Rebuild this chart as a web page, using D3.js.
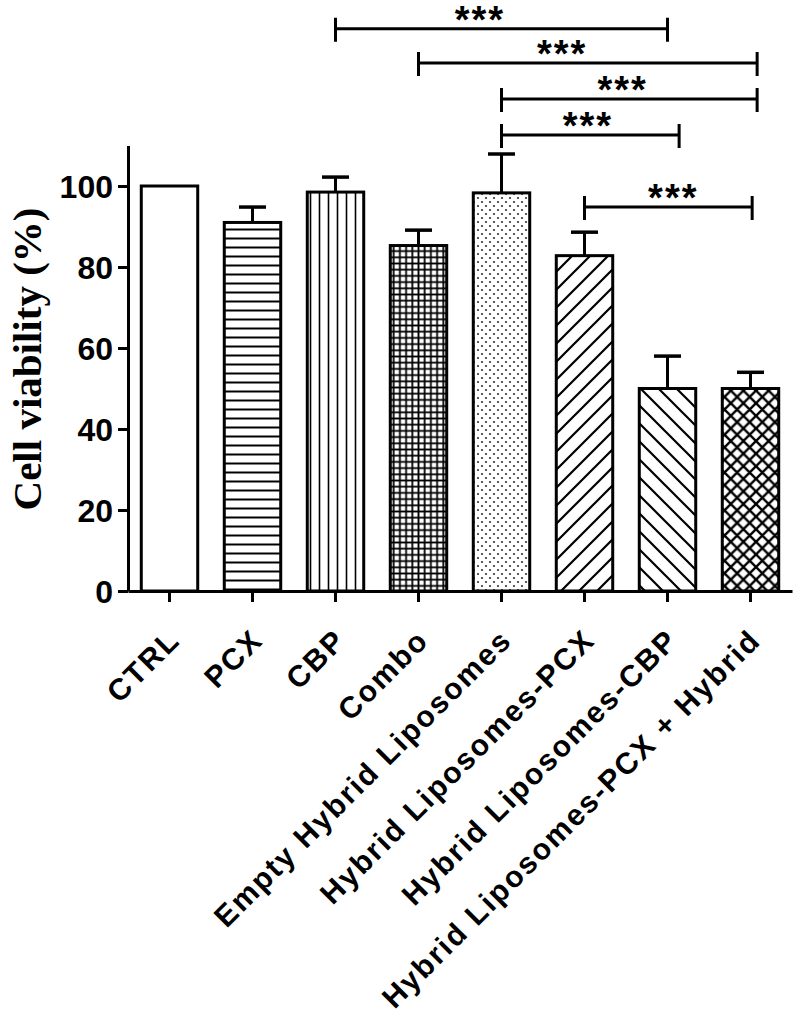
<!DOCTYPE html>
<html>
<head>
<meta charset="utf-8">
<script src="https://cdn.jsdelivr.net/npm/d3@7"></script>
<style>
  html, body { margin: 0; padding: 0; background: #fff; }
  svg { display: block; }
</style>
</head>
<body>
<svg id="chart" width="800" height="1021"></svg>
<script>
// ---------- data ----------
const categories = ["CTRL", "PCX", "CBP", "Combo", "Empty Hybrid Liposomes",
  "Hybrid Liposomes-PCX", "Hybrid Liposomes-CBP", "Hybrid Liposomes-PCX + Hybrid"];
const means = [100, 91, 98.5, 85.3, 98.3, 82.8, 50, 50];
const errors = [0, 3.8, 3.7, 3.8, 9.6, 5.8, 8, 4];
const yTicks = [0, 20, 40, 60, 80, 100];
const yTitle = "Cell viability (%)";
// significance comparisons (category positions, bracket height in % units)
const sigFrom = [2, 3, 4, 4, 5];
const sigTo = [6, 7.08, 7.08, 6.14, 7.02];
const sigLevel = [138.8, 130.4, 121.5, 112.6, 94.8];
const sigStarPos = [3.74, 4.73, 5.46, 5.04, 6.07];
const sigLabel = ["***", "***", "***", "***", "***"];

// ---------- layout ----------
const svg = d3.select("#chart");
const x0 = 128, x1 = 792, yBase = 591, yTop = 145.5;
const x = d3.scaleBand().domain(categories).range([x0, x1]).paddingInner(0.32).paddingOuter(0.16);
const y = d3.scaleLinear().domain([0, 110]).range([yBase, yTop]);
const step = x.step();
const catX = p => x(categories[0]) + x.bandwidth() / 2 + p * step;

// ---------- patterns ----------
const defs = svg.append("defs");
function pat(id, w, h) {
  return defs.append("pattern").attr("id", id).attr("patternUnits", "userSpaceOnUse")
    .attr("width", w).attr("height", h);
}
let p;
p = pat("hlines", 10, 9);
p.append("line").attr("x1", 0).attr("x2", 10).attr("y1", 4.5).attr("y2", 4.5).attr("stroke", "#000").attr("stroke-width", 2);
p = pat("vlines", 9, 10);
p.append("line").attr("y1", 0).attr("y2", 10).attr("x1", 4.5).attr("x2", 4.5).attr("stroke", "#000").attr("stroke-width", 1.6);
p = pat("grid", 6.2, 6.2);
p.append("path").attr("d", "M0,3.1H6.2M3.1,0V6.2").attr("stroke", "#000").attr("stroke-width", 1.8);
p = pat("dots", 8, 8);
p.append("circle").attr("cx", 2).attr("cy", 2).attr("r", 1.1).attr("fill", "#333");
p.append("circle").attr("cx", 6).attr("cy", 6).attr("r", 1.1).attr("fill", "#333");
p = pat("diagUp", 18, 18);
p.append("path").attr("d", "M-4.5,4.5L4.5,-4.5M0,18L18,0M13.5,22.5L22.5,13.5").attr("stroke", "#000").attr("stroke-width", 2.2);
p = pat("diagDown", 18, 18);
p.append("path").attr("d", "M-4.5,13.5L4.5,22.5M0,0L18,18M13.5,-4.5L22.5,4.5").attr("stroke", "#000").attr("stroke-width", 2.2);
p = pat("cross", 12.6, 12.6);
p.append("path").attr("d", "M0,0L12.6,12.6M0,12.6L12.6,0").attr("stroke", "#000").attr("stroke-width", 2.4);

const fills = ["#fff", "url(#hlines)", "url(#vlines)", "url(#grid)", "url(#dots)",
  "url(#diagUp)", "url(#diagDown)", "url(#cross)"];

// ---------- bars ----------
const g = svg.append("g");
g.selectAll("rect.bar").data(categories).join("rect")
  .attr("class", "bar")
  .attr("x", d => x(d))
  .attr("width", x.bandwidth())
  .attr("y", (d, i) => y(means[i]))
  .attr("height", (d, i) => yBase - y(means[i]))
  .attr("fill", (d, i) => fills[i])
  .attr("stroke", "#000").attr("stroke-width", 3);

// error bars (upper only)
const eb = g.selectAll("g.err").data(categories.filter((d, i) => errors[i] > 0)).join("g").attr("class", "err");
eb.append("line")
  .attr("x1", d => x(d) + x.bandwidth() / 2).attr("x2", d => x(d) + x.bandwidth() / 2)
  .attr("y1", d => y(means[categories.indexOf(d)]))
  .attr("y2", d => y(means[categories.indexOf(d)] + errors[categories.indexOf(d)]))
  .attr("stroke", "#000").attr("stroke-width", 3);
eb.append("line")
  .attr("x1", d => x(d) + x.bandwidth() / 2 - 13.5).attr("x2", d => x(d) + x.bandwidth() / 2 + 13.5)
  .attr("y1", d => y(means[categories.indexOf(d)] + errors[categories.indexOf(d)]))
  .attr("y2", d => y(means[categories.indexOf(d)] + errors[categories.indexOf(d)]))
  .attr("stroke", "#000").attr("stroke-width", 3.5);

// ---------- axes ----------
const yAxis = d3.axisLeft(y).tickValues(yTicks).tickSize(10).tickPadding(5).tickSizeOuter(0);
const yg = svg.append("g").attr("transform", `translate(${x0},0)`).call(yAxis);
yg.select(".domain").attr("stroke-width", 3);
yg.selectAll(".tick line").attr("stroke-width", 3);
yg.selectAll(".tick text").attr("font-family", "Liberation Sans, Arial, sans-serif")
  .attr("font-weight", "bold").attr("font-size", 32).attr("fill", "#000").attr("dy", "0.36em");

const xAxis = d3.axisBottom(x).tickSize(11).tickSizeOuter(0).tickFormat("");
const xg = svg.append("g").attr("transform", `translate(0,${yBase})`).call(xAxis);
xg.select(".domain").attr("stroke-width", 3);
xg.selectAll(".tick line").attr("stroke-width", 3);

// rotated category labels
svg.append("g").selectAll("text").data(categories).join("text")
  .attr("transform", d => `translate(${x(d) + x.bandwidth() / 2 + 12},642) rotate(-45)`)
  .attr("text-anchor", "end")
  .attr("font-family", "Liberation Sans, Arial, sans-serif")
  .attr("font-weight", "bold").attr("font-size", 30)
  .attr("letter-spacing", 2)
  .attr("fill", "#000")
  .text(d => d);

// y title
svg.append("text")
  .attr("transform", `translate(41,359) rotate(-90)`)
  .attr("text-anchor", "middle")
  .attr("font-family", "Liberation Serif, 'Times New Roman', serif")
  .attr("font-weight", "bold").attr("font-size", 41).attr("fill", "#000")
  .text(yTitle);

// ---------- significance brackets ----------
const sg = svg.append("g").selectAll("g").data(sigLevel).join("g");
sg.append("path")
  .attr("d", (d, i) => {
    const a = catX(sigFrom[i]), b = catX(sigTo[i]), yy = y(d);
    return `M${a},${yy - 11}V${yy + 13}M${a},${yy}H${b}M${b},${yy - 11}V${yy + 13}`;
  })
  .attr("fill", "none").attr("stroke", "#000").attr("stroke-width", 3);
sg.append("text")
  .attr("x", (d, i) => catX(sigStarPos[i]))
  .attr("y", d => y(d) + 4)
  .attr("text-anchor", "middle")
  .attr("font-family", "Liberation Sans, Arial, sans-serif")
  .attr("font-weight", "bold").attr("font-size", 38)
  .attr("letter-spacing", 2)
  .attr("fill", "#000")
  .text((d, i) => sigLabel[i]);
</script>
</body>
</html>
